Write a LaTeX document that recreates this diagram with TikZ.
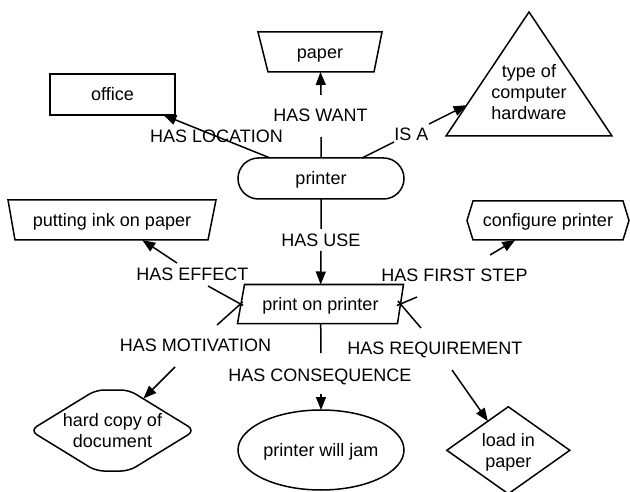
\documentclass[tikz,border=0pt]{standalone}
\usepackage{fontspec}
\setmainfont{Liberation Sans}
\usetikzlibrary{arrows.meta,shapes.geometric,shapes.misc}
\tikzset{
  conn/.style={line width=1.5pt},
  arr/.style={conn,-{Triangle[length=13pt,width=10pt]}},
  shp/.style={line width=1.5pt,outer sep=0pt,inner sep=0pt},
  one/.style={text height=12.9pt,text depth=0pt},
  lbl/.style={inner sep=0pt,outer sep=0pt,text height=12.9pt,text depth=0pt},
  ghost/.style={rectangle,outer sep=0pt,inner sep=0pt}
}
\begin{document}
\begin{tikzpicture}[x=1pt,y=-1pt,font=\fontsize{18pt}{21pt}\selectfont]
\useasboundingbox (0,0) rectangle (630,492);

% ---------- nodes ----------
\node[shp,draw,rectangle,one,minimum width=125pt,minimum height=41pt] (office) at (112.5,94.5) {office};

\node[ghost,one,minimum width=124pt,minimum height=40pt] (paper) at (320,52) {paper};
\draw[shp] (paper.north west) -- (paper.north east) -- ([xshift=-8pt]paper.south east) -- ([xshift=10pt]paper.south west) -- cycle;

\node[align=center] (hw) at (529,92.5) {type of\\computer\\hardware};
\draw[shp] (529,12) -- (612,136) -- (446,136) -- cycle;
\coordinate (hwin) at (466.6,105.2);

\node[shp,draw,rounded rectangle,one,minimum width=166pt,minimum height=41pt] (printer) at (321,178.5) {printer};

\node[ghost,one,minimum width=208pt,minimum height=40pt] (ink) at (112,220) {putting ink on paper};
\draw[shp] (ink.north west) -- (ink.north east) -- ([xshift=-8pt]ink.south east) -- ([xshift=7pt]ink.south west) -- cycle;

\node[ghost,one,minimum width=150pt,minimum height=39pt] (cfg) at (548,220.5) {configure printer};
\draw[shp] (cfg.north west) -- (cfg.north east) -- ([xshift=6pt]cfg.east) -- (cfg.south east) -- (cfg.south west) -- ([xshift=-6pt]cfg.west) -- cycle;

\node[ghost,one,minimum width=160pt,minimum height=39pt] (pop) at (320.5,304) {print on printer};
\draw[shp] ([xshift=4pt]pop.north west) -- ([xshift=3pt]pop.north east) -- ([xshift=-3pt]pop.south east) -- ([xshift=-3pt]pop.south west) -- cycle;

\node[align=center] (hc) at (112.5,430.5) {hard copy of\\document};
\draw[shp,rounded corners=8pt] (30,430.5) -- (96,390) -- (129,390) -- (195,430.5) -- (129,471) -- (96,471) -- cycle;
\coordinate (hcin) at (143.5,398.5);

\node[shp,draw,ellipse,one,minimum width=166pt,minimum height=80pt] (jam) at (321,450) {printer will jam};

\node[shp,draw,diamond,align=center,minimum width=123pt,minimum height=81pt] (lip) at (508.3,450.3) {load in\\\raisebox{0pt}[\height][0pt]{paper}};

% ---------- labels ----------
\node[lbl] (lloc) at (216.5,136.5) {HAS LOCATION};
\node[lbl] (lwant) at (320.5,115) {HAS WANT};
\node[lbl] (lisa) at (411.5,134) {IS A};
\node[lbl] (luse) at (321,240.5) {HAS USE};
\node[lbl] (leff) at (192.5,274.5) {HAS EFFECT};
\node[lbl] (lfs) at (454.5,275.5) {HAS FIRST STEP};
\node[lbl] (lmot) at (195.5,345.5) {HAS MOTIVATION};
\node[lbl] (lreq) at (435,348.5) {HAS REQUIREMENT};
\node[lbl] (lcons) at (320,375) {HAS CONSEQUENCE};

% ---------- connector break points ----------
\coordinate (want1) at (321,137);
\coordinate (want2) at (321,95);
\coordinate (isa1) at (394,142);
\coordinate (isa2) at (429,124);
\coordinate (use1) at (321,229);
\coordinate (use2) at (321,251);
\coordinate (eff1) at (208,286);
\coordinate (eff2) at (177,263);
\coordinate (mot1) at (217,325);
\coordinate (mot2) at (175,367);
\coordinate (cons1) at (321,353);
\coordinate (cons2) at (321,394);
\coordinate (fs1) at (417,297);
\coordinate (fs2) at (490,255);
\coordinate (req1) at (421,328);
\coordinate (req2) at (452,370);

% ---------- connectors ----------
\draw[arr] (printer) -- (office);
\draw[conn] (printer) -- (want1);
\draw[arr] (want2) -- (paper);
\draw[conn] (printer) -- (isa1);
\draw[arr] (isa2) -- (hwin);
\draw[conn] (printer) -- (use1);
\draw[arr] (use2) -- (pop);
\draw[conn,shorten <=-3pt] (pop.west) -- (eff1);
\draw[arr] (eff2) -- (ink);
\draw[conn,shorten <=-3pt] (pop.west) -- (mot1);
\draw[arr] (mot2) -- (hcin);
\draw[conn] (pop) -- (cons1);
\draw[arr] (cons2) -- (jam);
\draw[conn,shorten <=-4pt] (pop.east) -- (fs1);
\draw[arr] (fs2) -- (cfg);
\draw[conn,shorten <=-4pt] (pop.east) -- (req1);
\draw[arr] (req2) -- (lip);
\end{tikzpicture}
\end{document}
